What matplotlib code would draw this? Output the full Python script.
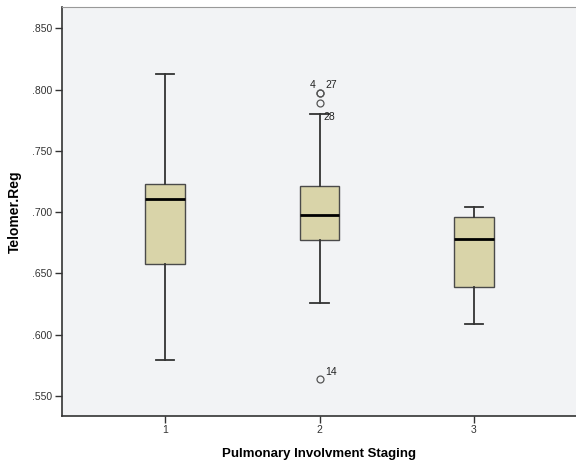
import matplotlib.pyplot as plt
from matplotlib.ticker import FuncFormatter

plt.rcParams["font.family"] = ["Liberation Sans", "DejaVu Sans"]

# data
stages = [1, 2, 3]
whisker_low = [0.579, 0.626, 0.609]
q1 = [0.658, 0.677, 0.639]
median = [0.711, 0.698, 0.678]
q3 = [0.723, 0.721, 0.696]
whisker_high = [0.813, 0.780, 0.704]

outlier_stage = [2, 2, 2, 2]
outlier_value = [0.7975, 0.7968, 0.7891, 0.5639]
outlier_case = ["4", "27", "28", "14"]

label_offsets = {"4": (-7, 3), "27": (4, 4), "28": (3, -12), "14": (4, 3)}

stats = []
for i in range(len(stages)):
    fl = [v for s, v in zip(outlier_stage, outlier_value) if s == stages[i]]
    stats.append(dict(whislo=whisker_low[i], q1=q1[i], med=median[i],
                      q3=q3[i], whishi=whisker_high[i], fliers=fl))

fig = plt.figure(figsize=(5.76, 4.62), dpi=100)
ax = fig.add_axes([0.1076, 0.1002, 0.8924, 0.884])
ax.set_facecolor("#f2f3f5")

ax.bxp(stats, positions=stages, widths=0.255, patch_artist=True,
       boxprops=dict(facecolor="#d9d4a9", edgecolor="#4a4a4a", linewidth=1.0),
       medianprops=dict(color="black", linewidth=2.0),
       whiskerprops=dict(color="#333333", linewidth=1.3),
       capprops=dict(color="#333333", linewidth=1.3),
       capwidths=0.12,
       flierprops=dict(marker="o", markersize=5, markerfacecolor="none",
                       markeredgecolor="#555555", markeredgewidth=0.9))

for s, v, c in zip(outlier_stage, outlier_value, outlier_case):
    ax.annotate(c, (s, v), xytext=label_offsets[c], textcoords="offset points",
                fontsize=7.5, color="#222222")

ax.set_xlim(0.333, 3.66)
ax.set_ylim(0.5339, 0.8671)
ax.set_yticks([0.55, 0.60, 0.65, 0.70, 0.75, 0.80, 0.85])
ax.yaxis.set_major_formatter(FuncFormatter(lambda v, p: ("%.3f" % v).lstrip("0")))
ax.set_xticks(stages)
ax.set_xticklabels([str(s) for s in stages])
ax.tick_params(labelsize=7.5, colors="#333333", length=5, width=1, pad=2)

for side in ["left", "bottom"]:
    ax.spines[side].set_color("#333333")
    ax.spines[side].set_linewidth(1.2)
ax.spines["top"].set_color("#999999")
ax.spines["right"].set_visible(False)

ax.set_xlabel("Pulmonary Involvment Staging", fontsize=9.5, fontweight="bold", labelpad=9)
ax.set_ylabel("Telomer.Reg", fontsize=10, fontweight="bold", labelpad=7)

fig.savefig("out.png", dpi=100)
